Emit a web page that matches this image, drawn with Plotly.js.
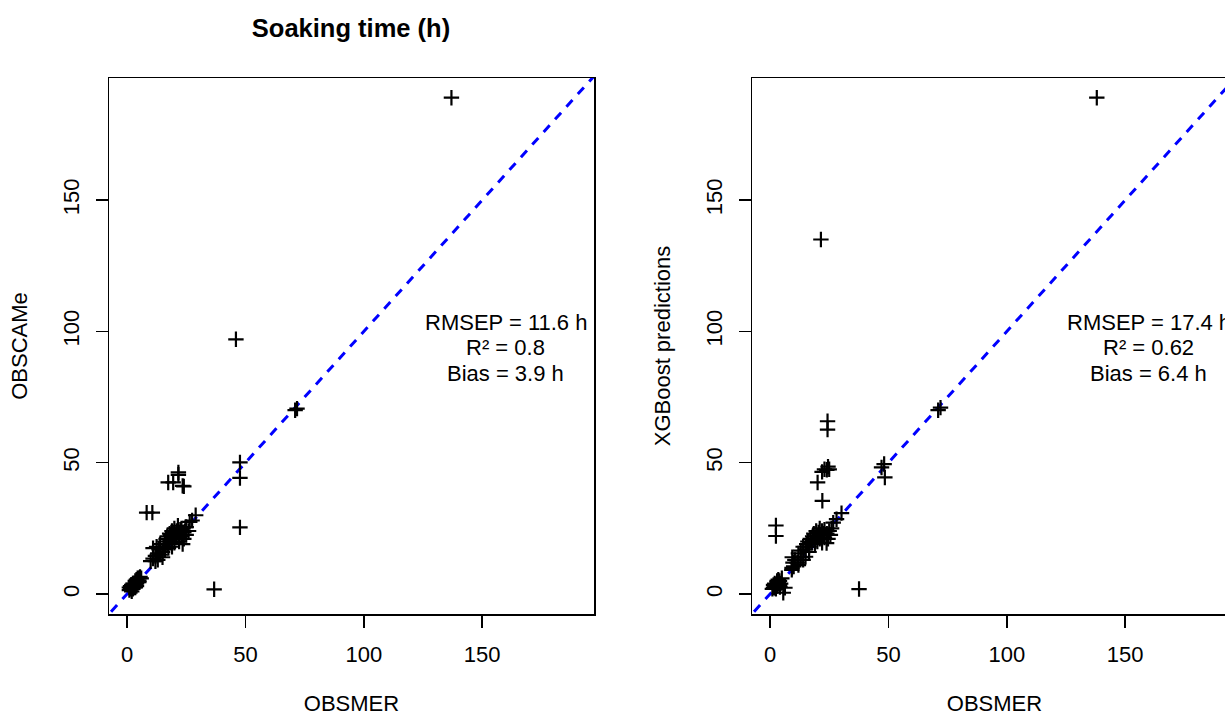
<!DOCTYPE html>
<html>
<head>
<meta charset="utf-8">
<script src="https://cdn.plot.ly/plotly-3.0.1.min.js"></script>
<style>
html,body{margin:0;padding:0;overflow:hidden;background:#fff;}
#chart{width:1240px;height:716px;}
</style>
</head>
<body>
<div id="chart"></div>
<script>
// ---- Left panel: OBSMER vs OBSCAMe ----
const obsmerLeft = [
  1,1.5,2,2,2.5,3,3,3.5,3.5,4,4,4.5,5,5,5.5,2,1.5,3,4,4.5,1,2.5,3.5,5,6,
  10,11,11,12.5,13,15,12,13.5,14,15,15.5,16,16.5,17,17,17.5,18,18,18.5,19,19,19.5,20,20,20.5,21,21,21.5,22,22,22.5,23,23,23.5,24,24,24.5,25,25,26,26.5,27.5,29,14,16,20,19,22,17.5,12,13,
  8.3,10.7,17.4,19.5,21.7,21.7,23.5,24,47.7,47.7,47.7,36.8,46,71,71.8,137
];
const obscame = [
  1.5,2,2.5,3.5,2,3,4,3.5,5,4,5.5,4.5,5,6,6.5,1,3,2.5,3,6,2.5,4,2.5,4.5,6,
  12.5,13.5,17.5,18,15.5,14,14.5,17,19,16,18,20,21,19,22,21,23,20,22.5,24,21,22,25,23,21.5,24,22,26,23,20,24.5,22,25,19,23.5,21,24,25.5,22.5,24,27.5,28,30,15,17,19.5,18,21.5,17.5,12.5,13,
  31,31,42.5,42.5,46.3,45.4,41.2,41,50.1,44.2,25.4,1.8,97,70,70.6,189
];
// ---- Right panel: OBSMER vs XGBoost predictions ----
const obsmerRight = [
  1,1.5,2,2,2.5,3,3,3.5,4,4.2,2.1,3.5,4.5,5,1.5,2.5,3,4,5.6,6.3,9.3,9.7,9.4,
  9.2,10,10.5,11.5,12,13,13,14,15,15,15.5,16,16.5,17,17.5,18,18,18.5,19,19.5,20,20,20.5,21,21,21.5,22,22,22.5,23,23,23.9,24,24.5,25,25.5,26,26.7,28.1,30.2,12,14,16.5,19,
  138,21.5,24.3,24.3,22,23,24,25,24.5,20.1,22.1,2.5,2.5,47.1,48.2,48.5,37.6,71,72
];
const xgbPred = [
  2,2.5,3,4,3.5,3,4.5,4,5,2.7,2.4,5.5,4,6,3.5,2,5,3.5,0.5,2.4,10,12,14,
  9.2,10.5,13,12,15.5,14,16.5,18,14.2,17,19,20,18,21,19.5,22,20.5,23,21,24,22,20,23.5,25,21,22.5,24,19.5,23,21.5,24.5,19.4,23,21,24,22.5,25,27.2,28.5,30.8,11,13,16,19,
  189,135,65.8,62.6,46.5,47.5,47.3,47.5,48.5,42.5,35.5,26.1,22.1,48.2,49.5,44.4,1.9,70,71
];
const identityLine = [-50, 300];
const tickValues = [0, 50, 100, 150];
const statsLeft = ["RMSEP = 11.6 h", "R² = 0.8", "Bias = 3.9 h"];
const statsRight = ["RMSEP = 17.4 h", "R² = 0.62", "Bias = 6.4 h"];
const statsPos = [160, 93.8];

const FONT = "Liberation Sans, Arial, Helvetica, sans-serif";
const FS = 22;
const markerStyle = {symbol: "cross-thin-open", size: 11, color: "#000", line: {color: "#000", width: 2.2}};
const lineStyle = {color: "#0000FF", width: 3, dash: "9px,8px"};

const traces = [
  {x: identityLine, y: identityLine, xaxis: "x", yaxis: "y", mode: "lines", line: lineStyle, hoverinfo: "skip", showlegend: false},
  {x: obsmerLeft, y: obscame, xaxis: "x", yaxis: "y", mode: "markers", marker: markerStyle, showlegend: false, cliponaxis: true},
  {x: identityLine, y: identityLine, xaxis: "x2", yaxis: "y2", mode: "lines", line: lineStyle, hoverinfo: "skip", showlegend: false},
  {x: obsmerRight, y: xgbPred, xaxis: "x2", yaxis: "y2", mode: "markers", marker: markerStyle, showlegend: false, cliponaxis: true}
];

function xAxis(domain, anchor) {
  return {
    domain: domain, anchor: anchor, range: [-7.6, 197.2],
    tickvals: tickValues, ticktext: tickValues.map(String),
    ticks: "outside", ticklen: 12, tickwidth: 1.5, tickcolor: "#000",
    showline: true, mirror: true, linecolor: "#000", linewidth: 1.5,
    showgrid: false, zeroline: false, tickfont: {family: FONT, size: FS, color: "#000"},
    ticklabelstandoff: 8,
    title: {text: "OBSMER", font: {family: FONT, size: FS, color: "#000"}, standoff: 36}
  };
}
function yAxis(anchor, title) {
  return {
    domain: [0, 1], anchor: anchor, range: [-7.6, 196.5],
    tickvals: tickValues, ticktext: tickValues.map(String), tickangle: -90,
    ticks: "outside", ticklen: 12, tickwidth: 1.5, tickcolor: "#000",
    showline: true, mirror: true, linecolor: "#000", linewidth: 1.5,
    showgrid: false, zeroline: false, tickfont: {family: FONT, size: FS, color: "#000"},
    ticklabelstandoff: 8,
    title: {text: title, font: {family: FONT, size: FS, color: "#000"}, standoff: 25}
  };
}

function statsAnnotations(lines, xr, yr) {
  const gap = 25.5;
  return lines.map((t, i) => ({
    xref: xr, yref: yr, x: statsPos[0], y: statsPos[1], yshift: (1 - i) * gap,
    text: t, showarrow: false, align: "center", xanchor: "center", yanchor: "middle",
    font: {family: FONT, size: FS, color: "#000"}
  }));
}

const W = 1240, H = 716;
const mL = 109, mR = 3, mT = 78, mB = 102;
const pw = W - mL - mR;
const layout = {
  width: W, height: H,
  margin: {l: mL, r: mR, t: mT, b: mB, pad: 0},
  paper_bgcolor: "#fff", plot_bgcolor: "#fff",
  font: {family: FONT, size: FS, color: "#000"},
  title: {
    text: "Soaking time (h)", font: {family: FONT, size: 25.5, color: "#000", weight: "bold"},
    xref: "paper", x: (351 - mL) / pw, xanchor: "center",
    yref: "container", y: 1 - 28 / H, yanchor: "middle"
  },
  xaxis: xAxis([0, 485 / pw], "y"),
  yaxis: yAxis("x", "OBSCAMe"),
  xaxis2: xAxis([(752 - mL) / pw, 1], "y2"),
  yaxis2: yAxis("x2", "XGBoost predictions"),
  annotations: statsAnnotations(statsLeft, "x", "y").concat(statsAnnotations(statsRight, "x2", "y2")),
  showlegend: false
};

Plotly.newPlot("chart", traces, layout, {staticPlot: true, displayModeBar: false});
</script>
</body>
</html>
